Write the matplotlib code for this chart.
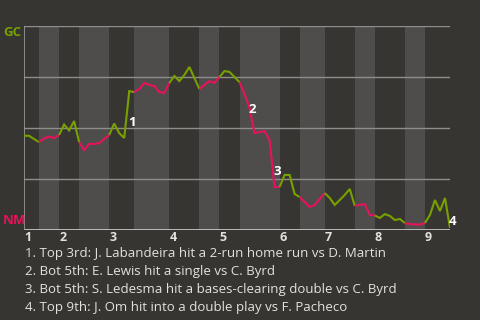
import matplotlib
matplotlib.use("Agg")
import matplotlib.pyplot as plt

# win probability for GC after each plate appearance (0 = NM, 1 = GC)
win_prob = [0.462, 0.462, 0.446, 0.431, 0.449, 0.458, 0.451, 0.466, 0.517, 0.488,
            0.534, 0.431, 0.392, 0.422, 0.422, 0.426, 0.446, 0.466, 0.522, 0.475,
            0.451, 0.681, 0.676, 0.691, 0.721, 0.711, 0.706, 0.676, 0.672, 0.721,
            0.755, 0.730, 0.760, 0.799, 0.745, 0.691, 0.711, 0.730, 0.721, 0.750,
            0.779, 0.775, 0.750, 0.725, 0.667, 0.598, 0.475, 0.480, 0.485, 0.441,
            0.211, 0.211, 0.270, 0.270, 0.176, 0.162, 0.137, 0.113, 0.123, 0.152,
            0.181, 0.157, 0.123, 0.147, 0.172, 0.201, 0.118, 0.123, 0.127, 0.074,
            0.071, 0.059, 0.078, 0.069, 0.049, 0.054, 0.034, 0.029, 0.027, 0.027,
            0.034, 0.074, 0.147, 0.093, 0.157, 0.010]

# event index where each half inning starts (top 1st ... top 9th, then end)
half_starts = [0, 3, 7, 11, 17, 22, 29, 35, 39, 43, 51, 55, 60, 66, 70, 76, 80, 85]
inning_labels = ["1", "2", "3", "4", "5", "6", "7", "8", "9"]

key_events = [21, 45, 50, 85]
notes = [
    "1. Top 3rd: J. Labandeira hit a 2-run home run vs D. Martin",
    "2. Bot 5th: E. Lewis hit a single vs C. Byrd",
    "3. Bot 5th: S. Ledesma hit a bases-clearing double vs C. Byrd",
    "4. Top 9th: J. Om hit into a double play vs F. Pacheco",
]

bg = "#373531"
stripe = "#4e4d4b"
green = "#78a100"
pink = "#e8125c"
text_col = "#e2e2e0"
font = "Open Sans"

fig = plt.figure(figsize=(4.8, 3.2), dpi=100, facecolor=bg)
ax = fig.add_axes([24 / 480, 1 - 230 / 320, 426 / 480, 204 / 320])
ax.set_facecolor(bg)
ax.set_xlim(0, half_starts[-1])
ax.set_ylim(0, 1)

# bottom halves get lighter stripes
for k in range(len(half_starts) - 1):
    if k % 2 == 1:
        ax.axvspan(half_starts[k], half_starts[k + 1], color=stripe, lw=0, zorder=0)

for yv in [0.25, 0.5, 0.75, 1.0]:
    ax.axhline(yv, color="#8e8d8b", lw=1, zorder=1)
ax.axhline(0, color="#cfcfcf", lw=1.2, zorder=1)

for s in ax.spines.values():
    s.set_visible(False)
ax.axvline(0, color="#9a9a98", lw=1.2, zorder=1)

# line, colored by who is batting
for k in range(len(half_starts) - 1):
    a, b = half_starts[k], half_starts[k + 1]
    ax.plot(range(a, b + 1), win_prob[a:b + 1], color=green if k % 2 == 0 else pink,
            lw=1.5, zorder=3, solid_capstyle="butt", solid_joinstyle="miter")

for n, ev in enumerate(key_events, 1):
    mid = (win_prob[ev - 1] + win_prob[ev]) / 2
    ax.annotate(str(n), xy=(ev - 0.5, mid), xytext=(4, -6), textcoords="offset points",
                ha="center", va="center", color="white", fontsize=9.5,
                fontweight="bold", family=font, zorder=4)

ax.set_yticks([])
ax.set_xticks(half_starts[:-1:2])
ax.set_xticklabels(inning_labels, ha="left", color=text_col, fontsize=9,
                   fontweight="bold", family=font)
ax.tick_params(axis="x", length=0, pad=1)

fig.text(3 / 480, 1 - 33 / 320, "GC", color=green, fontsize=9.5, fontweight="bold",
         family=font, va="center", ha="left")
fig.text(3 / 480, 1 - 221 / 320, "NM", color=pink, fontsize=9.5, fontweight="bold",
         family=font, va="center", ha="left")

for i, line in enumerate(notes):
    fig.text(25 / 480, 1 - (254 + 18 * i) / 320, line, color=text_col, fontsize=9.5,
             family=font, va="center", ha="left")

fig.savefig("out.png", dpi=100, facecolor=bg)
